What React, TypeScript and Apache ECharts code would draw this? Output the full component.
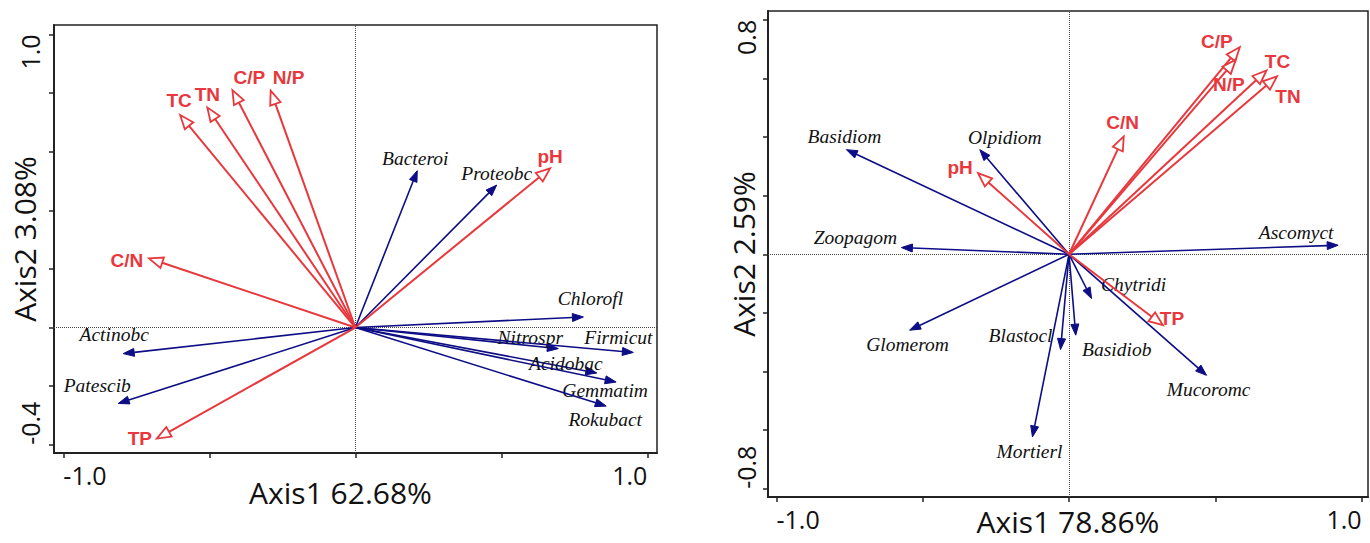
import React, { useEffect, useRef } from "react";
import * as echarts from "echarts";

// ---------- Left panel (bacteria) ----------
const leftEnvNames = ["TC", "TN", "C/P", "N/P", "C/N", "pH", "TP"];
const leftEnvX = [-0.600, -0.507, -0.421, -0.290, -0.707, 0.667, -0.680];
const leftEnvY = [0.725, 0.751, 0.810, 0.808, 0.236, 0.543, -0.379];

const leftSpNames = ["Bacteroi", "Proteobc", "Chlorofl", "Nitrospr", "Firmicut", "Acidobac", "Gemmatim", "Rokubact", "Actinobc", "Patescib"];
const leftSpX = [0.212, 0.484, 0.781, 0.695, 0.952, 0.827, 0.893, 0.859, -0.795, -0.812];
const leftSpY = [0.535, 0.486, 0.036, -0.072, -0.085, -0.155, -0.186, -0.268, -0.089, -0.259];

const leftXTicks = [-1.0, -0.5, 0, 0.5, 1.0];
const leftXLabels = [-1.0, 1.0];
const leftYTicks = [-0.4, -0.2, 0, 0.2, 0.4, 0.6, 0.8, 1.0];
const leftYLabels = [-0.4, 1.0];
const leftXTitle = "Axis1 62.68%";
const leftYTitle = "Axis2 3.08%";

// ---------- Right panel (fungi) ----------
const rightEnvNames = ["C/P", "N/P", "TC", "TN", "C/N", "pH", "TP"];
const rightEnvX = [0.584, 0.570, 0.675, 0.711, 0.187, -0.311, 0.321];
const rightEnvY = [0.707, 0.664, 0.627, 0.607, 0.402, 0.277, -0.242];

const rightSpNames = ["Basidiom", "Olpidiom", "Zoopagom", "Ascomyct", "Glomerom", "Blastocl", "Basidiob", "Chytridi", "Mucoromc", "Mortierl"];
const rightSpX = [-0.761, -0.305, -0.573, 0.920, -0.545, -0.029, 0.023, 0.077, 0.470, -0.125];
const rightSpY = [0.357, 0.357, 0.023, 0.031, -0.259, -0.325, -0.276, -0.151, -0.413, -0.623];

const rightXTicks = [-1.0, -0.5, 0, 0.5, 1.0];
const rightXLabels = [-1.0, 1.0];
const rightYTicks = [-0.8, -0.6, -0.4, -0.2, 0, 0.2, 0.4, 0.6, 0.8];
const rightYLabels = [-0.8, 0.8];
const rightXTitle = "Axis1 78.86%";
const rightYTitle = "Axis2 2.59%";

// ---------- Styling (label offsets in px from arrow tip) ----------
const leftEnvOffsets = [[-1, -14], [0, -13], [17, -13], [18, -13], [-22, 2], [0, -12], [-17, 0]];
const leftSpOffsets = [[-2, -12], [0, -11.5], [7, -18], [-28, -11], [-15, -15], [-31, -9], [-11, 8], [-1, 13], [-9, -19], [-21, -18]];
const rightEnvOffsets = [[-23, -6], [-7, 25], [11, -9], [11, 20], [-1, -14], [-18, -6], [9, -7]];
const rightSpOffsets = [[-2, -13], [25, -12], [-46, -10], [-42, -13], [-2, 14], [-40, -14], [41, 14], [42, -14], [2, 14], [-3, 15]];

const RED = "#e8383d";
const BLUE = "#0d0d85";
const SERIF = "'Liberation Serif', 'Times New Roman', serif";
const SANS = "'Liberation Sans', Arial, sans-serif";
const AXIS_FONT = "'Open Sans', sans-serif";

function arrowSeries(
  gridIdx: number,
  xs: number[],
  ys: number[],
  names: string[],
  offsets: number[][],
  kind: "env" | "sp",
  withZeroLines: boolean
): any {
  const isEnv = kind === "env";
  const s: any = {
    type: "custom",
    xAxisIndex: gridIdx,
    yAxisIndex: gridIdx,
    data: xs.map((x, i) => [x, ys[i]]),
    silent: true,
    z: isEnv ? 4 : 3,
    renderItem: (params: any, api: any) => {
      const i = params.dataIndex;
      const o = api.coord([0, 0]);
      const t = api.coord([api.value(0), api.value(1)]);
      const dx = t[0] - o[0];
      const dy = t[1] - o[1];
      const L = Math.hypot(dx, dy) || 1;
      const ux = dx / L;
      const uy = dy / L;
      const px = -uy;
      const py = ux;
      const hl = isEnv ? 14 : 11;
      const hw = isEnv ? 5.5 : 4;
      const bx = t[0] - ux * hl;
      const by = t[1] - uy * hl;
      const color = isEnv ? RED : BLUE;
      const off = offsets[i] || [0, 0];
      return {
        type: "group",
        children: [
          {
            type: "line",
            shape: { x1: o[0], y1: o[1], x2: bx, y2: by },
            style: { stroke: color, lineWidth: isEnv ? 2 : 1.6 },
          },
          {
            type: "polygon",
            shape: {
              points: [
                [t[0], t[1]],
                [bx + px * hw, by + py * hw],
                [bx - px * hw, by - py * hw],
              ],
            },
            style: isEnv
              ? { fill: "#ffffff", stroke: color, lineWidth: 1.8 }
              : { fill: color, stroke: color, lineWidth: 1 },
          },
          {
            type: "text",
            x: t[0] + off[0],
            y: t[1] + off[1],
            style: {
              text: names[i],
              fill: isEnv ? RED : "#111111",
              fontSize: isEnv ? 19 : 19.5,
              fontFamily: isEnv ? SANS : SERIF,
              fontWeight: isEnv ? "bold" : "normal",
              fontStyle: isEnv ? "normal" : "italic",
              align: "center",
              verticalAlign: "middle",
            },
          },
        ],
      };
    },
  };
  if (withZeroLines) {
    s.markLine = {
      silent: true,
      symbol: ["none", "none"],
      label: { show: false },
      lineStyle: { color: "#444", width: 1, type: "dotted" },
      data: [{ xAxis: 0 }, { yAxis: 0 }],
      z: 1,
    };
  }
  return s;
}

function xAxisOpt(gridIdx: number, min: number, max: number, ticks: number[], labels: number[], title: string, titlePad: number[], gap: number): any {
  return {
    type: "value",
    gridIndex: gridIdx,
    min,
    max,
    axisLine: { show: true, onZero: false, lineStyle: { color: "#222", width: 2 } },
    axisTick: { show: true, customValues: ticks, length: 5, lineStyle: { color: "#222", width: 1.5 } },
    axisLabel: {
      customValues: labels,
      formatter: (v: number) => v.toFixed(1),
      fontSize: 25,
      fontFamily: AXIS_FONT,
      color: "#111",
      margin: 9,
      alignMinLabel: "left",
      alignMaxLabel: "right",
    },
    splitLine: { show: false },
    name: title,
    nameLocation: "middle",
    nameGap: gap,
    nameMoveOverlap: false,
    nameTextStyle: { fontSize: 30, lineHeight: 30, fontFamily: AXIS_FONT, color: "#111", padding: titlePad },
  };
}

function yAxisOpt(gridIdx: number, min: number, max: number, ticks: number[], labels: number[], title: string, margin: number, gap: number): any {
  return {
    type: "value",
    gridIndex: gridIdx,
    min,
    max,
    axisLine: { show: true, onZero: false, lineStyle: { color: "#222", width: 2 } },
    axisTick: { show: true, customValues: ticks, length: 5, lineStyle: { color: "#222", width: 1.5 } },
    axisLabel: {
      customValues: labels,
      formatter: (v: number) => v.toFixed(1),
      fontSize: 25,
      fontFamily: AXIS_FONT,
      color: "#111",
      rotate: 90,
      margin,
      alignMinLabel: "left",
      alignMaxLabel: "right",
    },
    splitLine: { show: false },
    name: title,
    nameLocation: "middle",
    nameGap: gap,
    nameRotate: 90,
    nameMoveOverlap: false,
    nameTextStyle: { fontSize: 30, fontFamily: AXIS_FONT, color: "#111" },
  };
}

export default function App() {
  const ref = useRef<HTMLDivElement>(null);
  useEffect(() => {
    if (!ref.current) return;
    const chart = echarts.init(ref.current, undefined, { renderer: "svg" });
    const gridStyle = {
      show: true,
      borderColor: "#222",
      borderWidth: 1.5,
      backgroundColor: "transparent",
      containLabel: false,
      outerBoundsMode: "none",
    };
    chart.setOption({
      animation: false,
      backgroundColor: "#ffffff",
      grid: [
        { left: 54, top: 25, width: 603, height: 428, ...gridStyle },
        { left: 768, top: 11, width: 600, height: 486, ...gridStyle },
      ],
      xAxis: [
        xAxisOpt(0, -1.032, 1.033, leftXTicks, leftXLabels, leftXTitle, [0, 30, 0, 0], 24),
        xAxisOpt(1, -1.029, 1.022, rightXTicks, rightXLabels, rightXTitle, [0, 0, 0, 0], 9),
      ],
      yAxis: [
        yAxisOpt(0, -0.428, 1.032, leftYTicks, leftYLabels, leftYTitle, 12, 15),
        yAxisOpt(1, -0.828, 0.83, rightYTicks, rightYLabels, rightYTitle, 10, 10),
      ],
      series: [
        arrowSeries(0, leftSpX, leftSpY, leftSpNames, leftSpOffsets, "sp", true),
        arrowSeries(0, leftEnvX, leftEnvY, leftEnvNames, leftEnvOffsets, "env", false),
        arrowSeries(1, rightSpX, rightSpY, rightSpNames, rightSpOffsets, "sp", true),
        arrowSeries(1, rightEnvX, rightEnvY, rightEnvNames, rightEnvOffsets, "env", false),
      ],
    });
    return () => chart.dispose();
  }, []);
  return (
    <div
      ref={ref}
      style={{ position: "fixed", left: 0, top: 0, width: 1370, height: 543, background: "#fff" }}
    />
  );
}
